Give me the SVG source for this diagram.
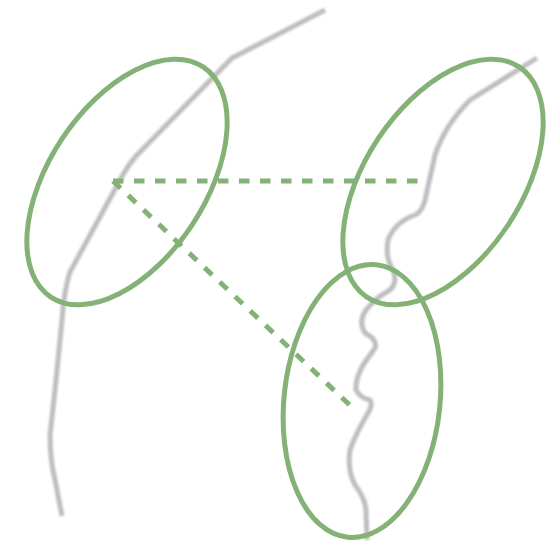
<svg xmlns="http://www.w3.org/2000/svg" width="558" height="544" viewBox="0 0 558 544">
<defs>
<style>
.gray{fill:none;stroke:#bebebe;stroke-width:5;stroke-linejoin:round;stroke-linecap:butt;filter:url(#blur)}
.ell{fill:none;stroke:#84b276;stroke-width:5}
.dash{fill:none;stroke:#84b276;stroke-width:5;stroke-dasharray:10.5 10.5}
</style>
<filter id="blur" x="-10%" y="-10%" width="120%" height="120%"><feGaussianBlur stdDeviation="0.9"/></filter>
</defs>
<rect width="558" height="544" fill="#ffffff"/>
<g id="contours">
<path class="gray" d="M325,10 L232,58 L137,155 Q128,165 120,180 L70,272 Q64,290 62,320 L55,390 L50,435 Q50,460 55,480 L62,516"/>
<path class="gray" d="M537,58 L470,100 Q445,125 435,155 L425,200 Q422,212 415,215 Q395,222 388,240 Q385,258 393,270 Q398,282 390,290 Q375,298 366,310 Q358,322 365,333 Q378,340 375,348 Q368,358 363,365 Q355,380 356,390 Q360,398 370,400 Q373,405 368,413 Q355,435 350,450 Q347,470 355,485 Q365,498 366,510 L367,540"/>
</g>
<g id="connectors">
<line class="dash" x1="113" y1="181" x2="425" y2="181"/>
<line class="dash" x1="113" y1="181" x2="356" y2="411"/>
</g>
<g id="ellipse-left"><ellipse class="ell" cx="127" cy="182" rx="138" ry="78" transform="rotate(-56.5 127 182)"/></g>
<g id="ellipse-right"><ellipse class="ell" cx="443" cy="182" rx="138" ry="78" transform="rotate(-56.5 443 182)"/></g>
<g id="ellipse-bottom"><ellipse class="ell" cx="362" cy="401" rx="78" ry="137" transform="rotate(6 362 401)"/></g>
</svg>
